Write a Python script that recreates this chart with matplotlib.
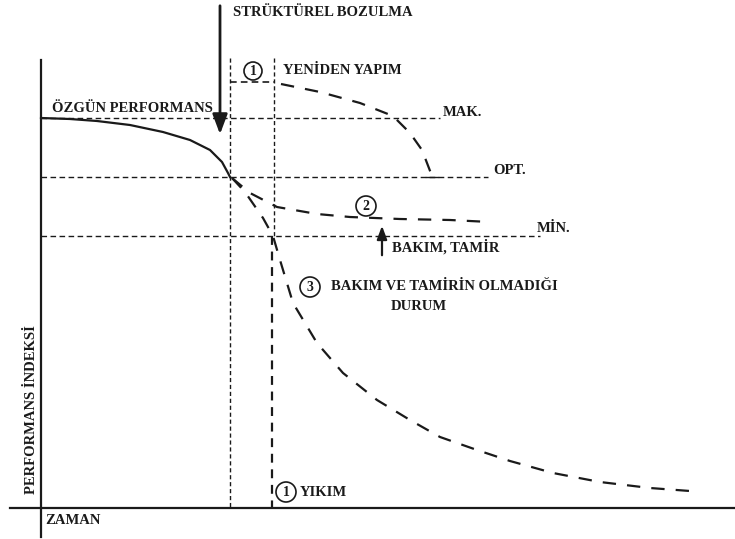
import matplotlib.pyplot as plt
from matplotlib.patches import Circle

plt.rcParams['font.family'] = ['Liberation Serif', 'DejaVu Serif']

# ---------------------------------
# Schematic data (time, performance index), drawing units
# ---------------------------------

# original performance, flat then decaying until structural failure
orig_t = [41, 70, 97, 130, 163, 190, 210, 222, 228, 230]
orig_p = [118, 119, 121, 125, 132, 140, 150, 162, 173, 177]

# threshold levels
levels = {"MAK.": 118, "OPT.": 177, "MİN.": 236}
level_end = {"MAK.": 440, "OPT.": 488, "MİN.": 540}

# (1) reconstruction
rebuild_t = [281, 320, 360, 393, 410, 422, 432]
rebuild_p = [84, 92, 103, 116, 133, 150, 176]

# (2) maintenance and repair
maint_t = [232, 250, 277, 317, 350, 400, 450, 490]
maint_p = [178, 193, 207, 214, 217, 219, 220, 222]

# (3) no maintenance
decay_t = [232, 245, 263, 273, 280, 293, 317, 343, 377, 410, 440,
           477, 510, 553, 600, 650, 690]
decay_p = [178, 192, 218, 236, 260, 303, 343, 373, 400, 420, 437,
           450, 461, 473, 482, 488, 491]

t_fail = 230
t_demolish = 272
t_top = 58

# ---------------------------------
# Figure
# ---------------------------------

fig = plt.figure(figsize=(7.35, 5.39), dpi=100)
ax = fig.add_axes([0, 0, 1, 1])
ax.set_xlim(0, 735)
ax.set_ylim(539, 0)
ax.axis("off")

ink = "#1a1a1a"

# axes
ax.plot([41, 41], [60, 537], color=ink, lw=1.6)
ax.plot([10, 735], [508, 508], color=ink, lw=1.6)

# threshold levels
for name, y in levels.items():
    ax.plot([41, level_end[name]], [y, y], color=ink, lw=1.0, dashes=(4, 2.5))

# vertical guides
ax.plot([t_fail, t_fail], [t_top, 508], color=ink, lw=1.0, dashes=(3, 2))
ax.plot([t_demolish + 2, t_demolish + 2], [t_top, 236], color=ink, lw=1.0, dashes=(3, 2))
ax.plot([t_demolish, t_demolish], [236, 508], color=ink, lw=1.6, dashes=(4, 3))
ax.plot([t_fail, t_demolish + 2], [82, 82], color=ink, lw=1.2, dashes=(4, 2.5))

# curves
ax.plot(orig_t, orig_p, color=ink, lw=1.6)
ax.plot(rebuild_t, rebuild_p, color=ink, lw=1.6, dashes=(6, 5))
ax.plot([426, 438], [177, 177], color=ink, lw=1.0)
ax.plot(maint_t, maint_p, color=ink, lw=1.6, dashes=(6, 5))
ax.plot(decay_t, decay_p, color=ink, lw=1.6, dashes=(6, 5))

# structural failure arrow
ax.annotate("", xy=(220, 137), xytext=(220, 3),
            arrowprops=dict(arrowstyle="-|>,head_width=0.45,head_length=1.2",
                            color=ink, lw=2.0))
# maintenance arrow
ax.annotate("", xy=(382, 223), xytext=(382, 258),
            arrowprops=dict(arrowstyle="-|>,head_width=0.3,head_length=0.8",
                            color=ink, lw=1.6))

# circled numbers
for cx, cy, r, num in [(253, 71, 9, "1"), (366, 206, 10, "2"),
                       (310, 287, 10, "3"), (286, 492, 10, "1")]:
    ax.add_patch(Circle((cx, cy), r, fill=False, ec=ink, lw=1.2))
    ax.text(cx, cy + 0.5, num, fontsize=10, fontweight="bold", color=ink,
            ha="center", va="center")

# labels
txt = dict(fontsize=10.5, fontweight="bold", color=ink, va="center")
ax.text(443, 112, "MAK.", **txt)
ax.text(493, 171, "OPT.", **txt)
ax.text(537, 229, "MİN.", **txt)
ax.text(233, 12, "STRÜKTÜREL BOZULMA", **txt)
ax.text(283, 71, "YENİDEN YAPIM", **txt)
ax.text(52, 109, "ÖZGÜN PERFORMANS", **txt)
ax.text(392, 247, "BAKIM, TAMİR", **txt)
ax.text(331, 287, "BAKIM VE TAMİRİN OLMADIĞI", **txt)
ax.text(419, 306, "DURUM", ha="center", **txt)
ax.text(300, 493, "YIKIM", **txt)
ax.text(45, 521, "ZAMAN", **txt)
ax.text(32, 410, "PERFORMANS İNDEKSİ", rotation=90, ha="center", **txt)

fig.savefig("out.png", dpi=100, facecolor="white")
